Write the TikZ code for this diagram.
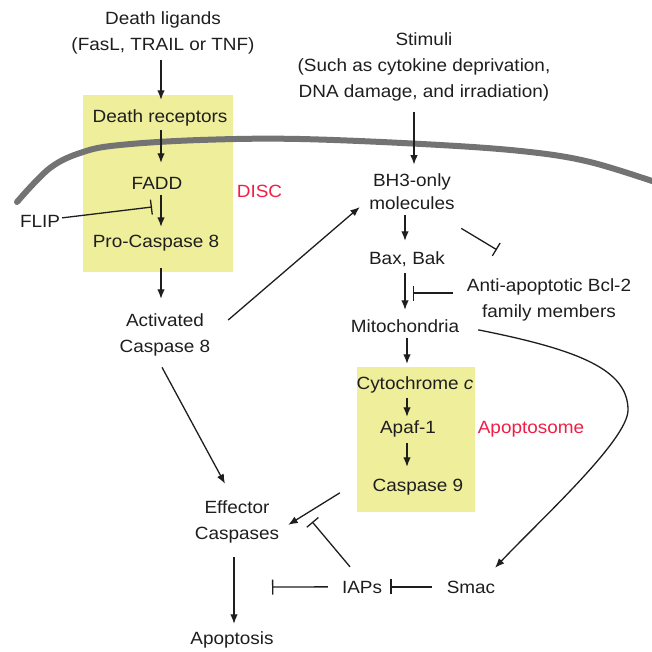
\documentclass[tikz,border=0pt]{standalone}
\usepackage{fontspec}
\setmainfont{Liberation Sans}[FakeStretch=1.07]
\usetikzlibrary{arrows.meta,calc}
\definecolor{yel}{RGB}{239,238,155}
\definecolor{memb}{RGB}{115,115,115}
\definecolor{redt}{RGB}{240,30,70}
\definecolor{txt}{RGB}{30,30,30}
\tikzset{
  lbl/.style={inner sep=1pt,text=txt,font=\fontsize{17.7}{26}\selectfont},
  one/.style={lbl,text height=12.7pt,text depth=3.7pt},
  two/.style={lbl,align=center},
  arr/.style={-{Latex[length=9.5pt,width=7.5pt]},line width=1.3pt,draw=txt},
  inh/.style={-{Bar[width=15pt]},line width=1.3pt,draw=txt},
}
\begin{document}
\begin{tikzpicture}[x=1pt,y=-1pt]
\useasboundingbox (0,0) rectangle (652,651);
% complexes
\fill[yel] (83,95) rectangle (233,272);
\fill[yel] (357,367) rectangle (475,512);
% membrane
\draw[memb,line width=6pt,line cap=round] plot[smooth,tension=0.6] coordinates
  {(17,202) (50,168) (83,152) (120,145) (200,140) (300,139) (440,145) (530,152) (590,162) (652,181)};
% nodes
\node[two] (dl) at (163,33.35) {Death ligands\\(FasL, TRAIL or TNF)};
\node[one] (dr) at (160,117.85) {Death receptors};
\node[one] (fadd) at (157,184.85) {FADD};
\node[one] (pc8) at (156,242.85) {Pro-Caspase 8};
\node[one] (flip) at (40,222.85) {FLIP};
\node[one,text=redt] (disc) at (259.5,192.85) {DISC};
\node[two] (ac8) at (165,334.85) {Activated\\Caspase 8};
\node[two] (stim) at (424,66.85) {Stimuli\\(Such as cytokine deprivation,\\DNA damage, and irradiation)};
\node[two] (bh3) at (412,191.5) {BH3-only\\[-3pt]molecules};
\node[one] (bax) at (407,259.85) {Bax, Bak};
\node[two] (anti) at (549,299.85) {Anti-apoptotic Bcl-2\\family members};
\node[one] (mito) at (405,327.85) {Mitochondria};
\node[one] (cyt) at (415,384.85) {Cytochrome \textit{c}};
\node[one] (apaf) at (408,428.85) {Apaf-1};
\node[one] (c9) at (418,486.85) {Caspase 9};
\node[one,text=redt] (apo) at (531,428.85) {Apoptosome};
\node[two] (eff) at (237,521.85) {Effector\\Caspases};
\node[one] (apt) at (232,639.85) {Apoptosis};
\node[one] (iaps) at (362,588.85) {IAPs};
\node[one] (smac) at (471,588.85) {Smac};
\coordinate (fb) at (152,207);
\coordinate (bb) at (413,293);
\coordinate (ab) at (272,587);
% connectors
\draw[arr] ($(dl.south)+(-2,4)$) -- ($(dr.north)+(1,-8.65)$);
\draw[arr] ($(dr.south)+(1,2.6)$) -- ($(fadd.north)+(4,-12.65)$);
\draw[arr] ($(fadd.south)+(4,0.6)$) -- ($(pc8.north)+(5,-6.6)$);
\draw[arr] ($(pc8.south)+(5,15.6)$) -- ($(ac8.north)+(-4,-13.6)$);
\draw[inh] ($(flip.east)+(1,-5)$) -- (fb);
\draw[arr] ($(ac8.east)+(16.7,-14.85)$) -- ($(bh3.west)+(-8.4,15.5)$);
\draw[arr] ($(ac8.south)+(-3,10)$) -- ($(eff.north)+(-12,-15.65)$);
\draw[arr] ($(stim.south)+(-10,10)$) -- ($(bh3.north)+(2,-7.65)$);
\draw[arr] ($(bh3.south)+(-7,4.65)$) -- ($(bax.north)+(-2,-9.65)$);
\draw[inh] ($(bh3.south east)+(5.4,17.65)$) -- ($(anti.north west)+(31.1,-27.65)$);
\draw[arr] ($(bax.south)+(-2,4)$) -- ($(mito.north)+(0,-8.65)$);
\draw[inh] ($(anti.west)+(-12.9,-6.85)$) -- (bb);
\draw[arr] ($(mito.south)+(2,1)$) -- ($(cyt.north)+(-8,-11.65)$);
\draw[arr] ($(cyt.south)+(-8,4)$) -- ($(apaf.north)+(-1,-2.65)$);
\draw[arr] ($(apaf.south)+(-1,5)$) -- ($(c9.north)+(-11,-10.65)$);
\draw[arr] ($(mito.east)+(17.8,2)$) .. controls (580,350) and (628,370) .. (628,410)
   .. controls (628,440) and (540,520) .. ($(smac.north)+(24,-11.65)$);
\draw[arr] ($(c9.west)+(-31.7,6)$) -- ($(eff.east)+(7.9,3)$);
\draw[inh] ($(iaps.north)+(-12,-12.65)$) -- ($(eff.east)+(31.9,0)$);
\draw[inh] ($(iaps.west)+(-13,-2)$) -- (ab);
\draw[inh] ($(smac.west)+(-13.8,-2)$) -- ($(iaps.east)+(7,-2)$);
\draw[arr] ($(eff.south)+(-3,13)$) -- ($(apt.north)+(2,-6.65)$);
\end{tikzpicture}
\end{document}
